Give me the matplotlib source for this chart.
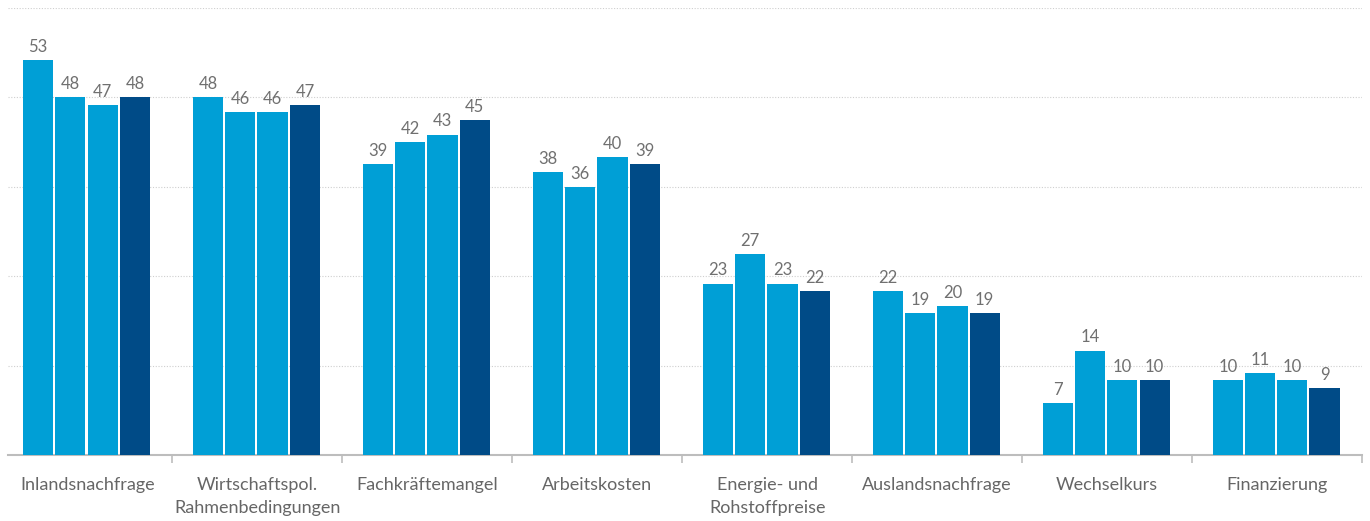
import matplotlib.pyplot as plt
import numpy as np

categories = ["Inlandsnachfrage", "Wirtschaftspol.\nRahmenbedingungen", "Fachkräftemangel",
              "Arbeitskosten", "Energie- und\nRohstoffpreise", "Auslandsnachfrage",
              "Wechselkurs", "Finanzierung"]
s1 = [53, 48, 39, 38, 23, 22, 7, 10]
s2 = [48, 46, 42, 36, 27, 19, 14, 11]
s3 = [47, 46, 43, 40, 23, 20, 10, 10]
s4 = [48, 47, 45, 39, 22, 19, 10, 9]

light = "#009fd6"
dark = "#004b87"
colors = [light, light, light, dark]

plt.rcParams['font.family'] = ['Lato', 'DejaVu Sans']

fig = plt.figure(figsize=(13.7, 5.21), dpi=100)
ax = fig.add_axes([8 / 1370, 0.1267, 1354 / 1370, 0.858])

x = np.arange(len(categories))
w = 0.178
step = 0.19
for i, vals in enumerate([s1, s2, s3, s4]):
    pos = x - 0.005 + (i - 1.5) * step
    ax.bar(pos, vals, width=w, color=colors[i], zorder=3)
    for p, v in zip(pos, vals):
        ax.text(p, v + 0.7, str(v), ha='center', va='bottom', fontsize=12, color='#707070')

ax.set_xlim(-0.467, len(categories) - 0.5)
ax.set_ylim(0, 60)
ax.set_yticks([12, 24, 36, 48, 60])
ax.yaxis.grid(True, linestyle=(0, (1, 1.5)), color='#cfcfcf', linewidth=0.8, zorder=0)
ax.tick_params(axis='y', left=False, labelleft=False)

ax.set_xticks(x)
ax.set_xticklabels(categories, fontsize=13, color='#666666', linespacing=1.5)
ax.tick_params(axis='x', length=0, pad=16)
ax.set_xticks(np.arange(0.5, len(categories)), minor=True)
ax.tick_params(axis='x', which='minor', length=6, color='#bdbdbd', width=1.2)

for s in ['top', 'left', 'right']:
    ax.spines[s].set_visible(False)
ax.spines['bottom'].set_color('#bdbdbd')
ax.spines['bottom'].set_linewidth(1.5)

fig.savefig("out.png", dpi=100)
